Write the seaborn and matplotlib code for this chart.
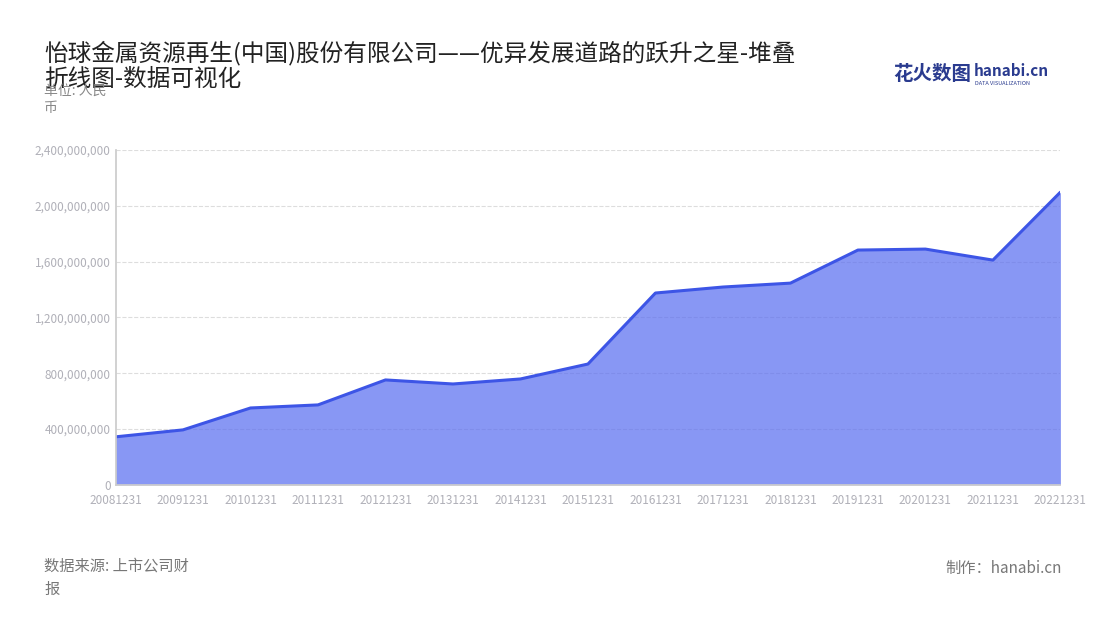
import matplotlib
matplotlib.use("Agg")
import matplotlib.pyplot as plt
import seaborn as sns
import pandas as pd
from matplotlib.ticker import FuncFormatter

years = ["20081231","20091231","20101231","20111231","20121231","20131231","20141231","20151231",
         "20161231","20171231","20181231","20191231","20201231","20211231","20221231"]
values = [344e6, 394e6, 551e6, 573e6, 752e6, 723e6, 759e6, 866e6,
          1375e6, 1418e6, 1446e6, 1683e6, 1690e6, 1611e6, 2098e6]
yticks = [0, 400e6, 800e6, 1200e6, 1600e6, 2000e6, 2400e6]

sns.set_theme(style="white")
plt.rcParams['font.family'] = ['Noto Sans CJK SC', 'DejaVu Sans']

df = pd.DataFrame({"date": years, "value": values})
df["x"] = range(len(df))

fig = plt.figure(figsize=(11, 6.2), dpi=100)
ax = fig.add_axes([0.105, 0.218, 0.859, 0.54])
ax.fill_between(df["x"], df["value"], color="#5b6ff0", alpha=0.72, linewidth=0)
sns.lineplot(data=df, x="x", y="value", ax=ax, color="#3d55e6", linewidth=2.2)
ax.set_xlim(0, len(df) - 1)
ax.set_ylim(0, 2400e6)
ax.set_yticks(yticks)
ax.yaxis.set_major_formatter(FuncFormatter(lambda v, p: f"{int(v):,}"))
ax.set_xticks(df["x"])
ax.set_xticklabels(years)
ax.tick_params(axis="both", labelsize=8.5, colors="#b0b0b8", length=3)
ax.tick_params(axis="y", length=0)
ax.grid(axis="y", linestyle="--", color="#dddddd", linewidth=0.8)
ax.set_xlabel(""); ax.set_ylabel("")
for s in ["top", "right"]:
    ax.spines[s].set_visible(False)
ax.spines["left"].set_color("#cccccc")
ax.spines["bottom"].set_color("#cccccc")

fig.text(0.04, 0.935, "怡球金属资源再生(中国)股份有限公司——优异发展道路的跃升之星-堆叠\n折线图-数据可视化",
         fontsize=17, color="#222222", va="top", linespacing=1.15)
fig.text(0.04, 0.815, "单位: 人民\n币", fontsize=10, color="#888888", va="bottom", linespacing=1.3)
fig.text(0.04, 0.035, "数据来源: 上市公司财\n报", fontsize=11, color="#777777", va="bottom", linespacing=1.5)
fig.text(0.965, 0.07, "制作：hanabi.cn", fontsize=11, color="#777777", ha="right", va="bottom")
fig.text(0.812, 0.88, "花火数图", fontsize=14, color="#2a3b8f", weight="bold", va="center")
fig.text(0.885, 0.885, "hanabi.cn", fontsize=11, color="#2a3b8f", weight="bold", va="center")
fig.text(0.886, 0.866, "DATA VISUALIZATION", fontsize=4, color="#2a3b8f", va="center")

fig.savefig("out.png", dpi=100)
